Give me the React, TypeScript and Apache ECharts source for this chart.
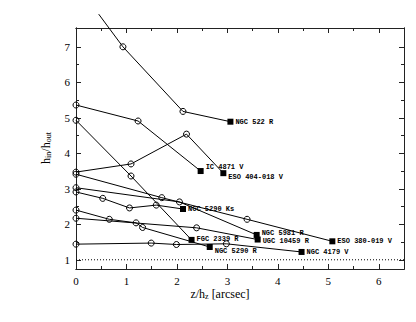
import React, { useEffect, useRef } from "react";
import * as echarts from "echarts";

// ---- data ----
const galaxyNames = [
  "NGC 522 R",
  "IC 4871 V",
  "ESO 404-018 V",
  "FGC 2339 R",
  "ESO 380-019 V",
  "NGC 5981 R",
  "NGC 5290 Ks",
  "NGC 5290 R",
  "UGC 10459 R",
  "NGC 4179 V",
];
const xValues = [
  [0.45, 0.93, 2.12, 3.06],
  [0, 1.23, 2.47],
  [0, 1.09, 2.19, 2.92],
  [0, 1.09, 2.29],
  [0, 1.7, 3.39, 5.08],
  [0, 2.05, 3.58],
  [0, 0.53, 1.06, 1.59, 2.12],
  [0, 0.66, 1.19, 1.32, 2.65],
  [0, 2.39, 3.6],
  [0, 1.49, 1.99, 2.98, 4.47],
];
const yValues = [
  [7.92, 7.0, 5.18, 4.89],
  [5.36, 4.91, 3.5],
  [3.47, 3.7, 4.54, 3.44],
  [4.93, 3.36, 1.56],
  [3.41, 2.75, 2.14, 1.52],
  [3.03, 2.63, 1.7],
  [2.91, 2.73, 2.46, 2.54, 2.43],
  [2.4, 2.14, 2.04, 1.91, 1.36],
  [2.17, 1.9, 1.57],
  [1.44, 1.47, 1.43, 1.45, 1.22],
];
const refLineY = 1;
const xMin = 0;
const xMax = 6.5;
const yMin = 0.74;
const yMax = 7.53;
const xMajorTicks = [0, 1, 2, 3, 4, 5, 6];
const xMinorTicks = [0.5, 1.5, 2.5, 3.5, 4.5, 5.5];
const yMajorTicks = [1, 2, 3, 4, 5, 6, 7];
const yMinorTicks = [1.5, 2.5, 3.5, 4.5, 5.5, 6.5];

// ---- styles ----
const labelDy = [0, -4, 4, -1, 0, -2, 0, 4, 1, 0];
const FRAME = "#222";
const SERIF = "'Liberation Serif', 'DejaVu Serif', serif";
const MONO = "'Liberation Mono', 'DejaVu Sans Mono', monospace";

function makeAxis(
  dim: "x" | "y",
  position: string,
  ticks: number[],
  len: number,
  showLabels: boolean
) {
  return {
    type: "value",
    position,
    min: dim === "x" ? xMin : yMin,
    max: dim === "x" ? xMax : yMax,
    splitLine: { show: false },
    axisLine: { show: true, onZero: false, lineStyle: { color: FRAME, width: 1 } },
    axisTick: {
      show: true,
      inside: true,
      length: len,
      customValues: ticks,
      lineStyle: { color: FRAME, width: 1 },
    },
    axisLabel: showLabels
      ? {
          show: true,
          customValues: ticks,
          color: "#000",
          fontFamily: SERIF,
          fontSize: 11,
          lineHeight: 11,
          margin: 6,
        }
      : { show: false },
  };
}

export default function App() {
  const ref = useRef<HTMLDivElement>(null);

  useEffect(() => {
    if (!ref.current) return;
    const chart = echarts.init(ref.current, null, { renderer: "svg" });

    const series: any[] = galaxyNames.map((name, si) => {
      const xs = xValues[si];
      const ys = yValues[si];
      const n = xs.length;
      const data = xs.map((x, i) => {
        const last = i === n - 1;
        const outside = ys[i] > yMax;
        if (last) {
          return {
            value: [x, ys[i]],
            symbol: "rect",
            symbolSize: 6,
            itemStyle: { color: "#000", borderColor: "#000", borderWidth: 0 },
            label: {
              show: true,
              position: "right",
              distance: 2,
              offset: [0, labelDy[si]],
              formatter: name,
              fontFamily: MONO,
              fontWeight: "bold",
              fontSize: 7,
              color: "#000",
            },
          };
        }
        return {
          value: [x, ys[i]],
          symbol: outside ? "none" : "circle",
        };
      });
      return {
        type: "line",
        name,
        data,
        clip: false,
        symbol: "circle",
        symbolSize: 6,
        showAllSymbol: true,
        silent: true,
        emphasis: { disabled: true },
        lineStyle: { color: "#000", width: 1 },
        itemStyle: {
          color: "rgba(0,0,0,0)",
          borderColor: "#000",
          borderWidth: 1,
        },
        z: 3,
      };
    });

    series.push({
      type: "line",
      name: "ref",
      data: [
        [xMin, refLineY],
        [xMax, refLineY],
      ],
      symbol: "none",
      silent: true,
      lineStyle: { color: "#000", width: 1, type: [1, 2] },
      z: 2,
    });

    const rich = {
      n: { fontFamily: SERIF, fontSize: 12, lineHeight: 12, fill: "#000" },
      s: {
        fontFamily: SERIF,
        fontSize: 8,
        lineHeight: 6,
        verticalAlign: "bottom",
        fill: "#000",
      },
    };

    chart.setOption({
      animation: false,
      backgroundColor: "#fff",
      grid: { left: 76, right: 12, top: 28, bottom: 53, containLabel: false },
      xAxis: [
        makeAxis("x", "bottom", xMajorTicks, 5, true),
        makeAxis("x", "bottom", xMinorTicks, 3, false),
        makeAxis("x", "top", xMajorTicks, 5, false),
        makeAxis("x", "top", xMinorTicks, 3, false),
      ],
      yAxis: [
        makeAxis("y", "left", yMajorTicks, 5, true),
        makeAxis("y", "left", yMinorTicks, 3, false),
        makeAxis("y", "right", yMajorTicks, 5, false),
        makeAxis("y", "right", yMinorTicks, 3, false),
      ],
      series,
      graphic: [
        {
          type: "text",
          x: 46,
          y: 148,
          rotation: Math.PI / 2,
          silent: true,
          style: {
            text: "{n|h}{s|in}{n|/h}{s|out}",
            align: "center",
            verticalAlign: "middle",
            fill: "#000",
            rich,
          },
        },
        {
          type: "text",
          x: 220,
          y: 294,
          silent: true,
          style: {
            text: "{n|z/h}{s|z}{n| [arcsec]}",
            align: "center",
            verticalAlign: "middle",
            fill: "#000",
            rich,
          },
        },
      ],
    });

    return () => chart.dispose();
  }, []);

  return (
    <div
      ref={ref}
      style={{ position: "fixed", left: 0, top: 0, width: 416, height: 322 }}
    />
  );
}
